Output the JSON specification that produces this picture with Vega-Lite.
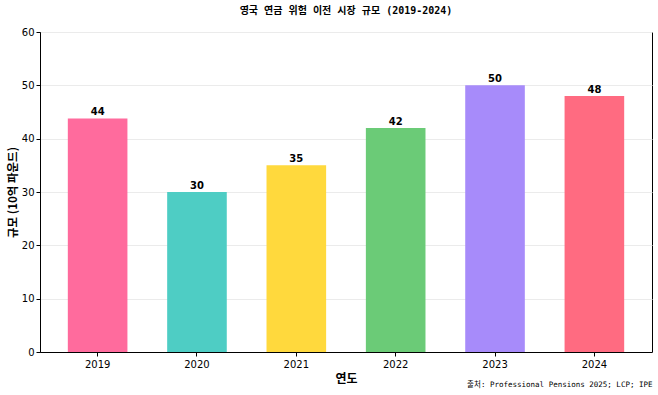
{
  "$schema": "https://vega.github.io/schema/vega-lite/v6.json",
  "width": 612,
  "height": 320,
  "autosize": {"type": "none"},
  "padding": {"left": 40, "top": 32, "right": 6, "bottom": 43},
  "background": "white",
  "title": {
    "text": "영국 연금 위험 이전 시장 규모 (2019-2024)",
    "font": "DejaVu Sans Mono, Noto Sans CJK KR",
    "fontSize": 10,
    "fontWeight": "bold",
    "color": "black",
    "anchor": "middle",
    "offset": 11
  },
  "config": {
    "view": {"stroke": "black", "strokeWidth": 1},
    "axis": {
      "labelFont": "DejaVu Sans",
      "labelFontSize": 10,
      "labelColor": "black",
      "tickColor": "black",
      "domainColor": "black",
      "titleColor": "black",
      "titleFont": "Noto Sans CJK KR",
      "titleFontWeight": "bold",
      "titleFontSize": 12
    }
  },
  "data": {
    "values": [
      {"year": "2019", "size": 43.8, "label": "44", "color": "#FF6B9D"},
      {"year": "2020", "size": 30, "label": "30", "color": "#4ECDC4"},
      {"year": "2021", "size": 35, "label": "35", "color": "#FFD93D"},
      {"year": "2022", "size": 42, "label": "42", "color": "#6BCB77"},
      {"year": "2023", "size": 50, "label": "50", "color": "#A78BFA"},
      {"year": "2024", "size": 48, "label": "48", "color": "#FF6B81"}
    ]
  },
  "encoding": {
    "x": {
      "field": "year",
      "type": "ordinal",
      "scale": {"paddingInner": 0.4, "paddingOuter": 0.28}
    },
    "y": {
      "field": "size",
      "type": "quantitative",
      "scale": {"domain": [0, 60], "nice": false},
      "axis": {
        "values": [0, 10, 20, 30, 40, 50, 60],
        "title": "규모 (10억 파운드)",
        "titleFontSize": 11.5,
        "titlePadding": 3,
        "grid": true,
        "gridColor": "#ebebeb",
        "tickSize": 4,
        "labelPadding": 2
      }
    }
  },
  "layer": [
    {
      "mark": {"type": "bar"},
      "encoding": {
        "color": {"field": "color", "type": "nominal", "scale": null},
        "x": {
          "field": "year",
          "type": "ordinal",
          "scale": {"paddingInner": 0.4, "paddingOuter": 0.28},
          "axis": {
            "orient": "bottom",
            "title": "연도",
            "labelAngle": 0,
            "tickSize": 4,
            "titlePadding": 4,
            "labelPadding": 3
          }
        }
      }
    },
    {
      "mark": {
        "type": "text",
        "baseline": "bottom",
        "dy": -1,
        "font": "DejaVu Sans",
        "fontWeight": "bold",
        "fontSize": 10,
        "color": "black"
      },
      "encoding": {
        "text": {"field": "label"},
        "x": {
          "field": "year",
          "type": "ordinal",
          "scale": {"paddingInner": 0.4, "paddingOuter": 0.28},
          "axis": {
            "orient": "bottom",
            "title": "출처: Professional Pensions 2025; LCP; IPE",
            "titleFont": "DejaVu Sans Mono, Noto Sans CJK KR",
            "titleFontSize": 7.5,
            "titleFontWeight": "normal",
            "titleAnchor": "end",
            "titleAlign": "right",
            "titleBaseline": "middle",
            "titleX": 612,
            "titleY": 32,
            "labels": false,
            "ticks": false,
            "domain": false,
            "grid": false
          }
        }
      }
    }
  ],
  "resolve": {"axis": {"x": "independent"}}
}
